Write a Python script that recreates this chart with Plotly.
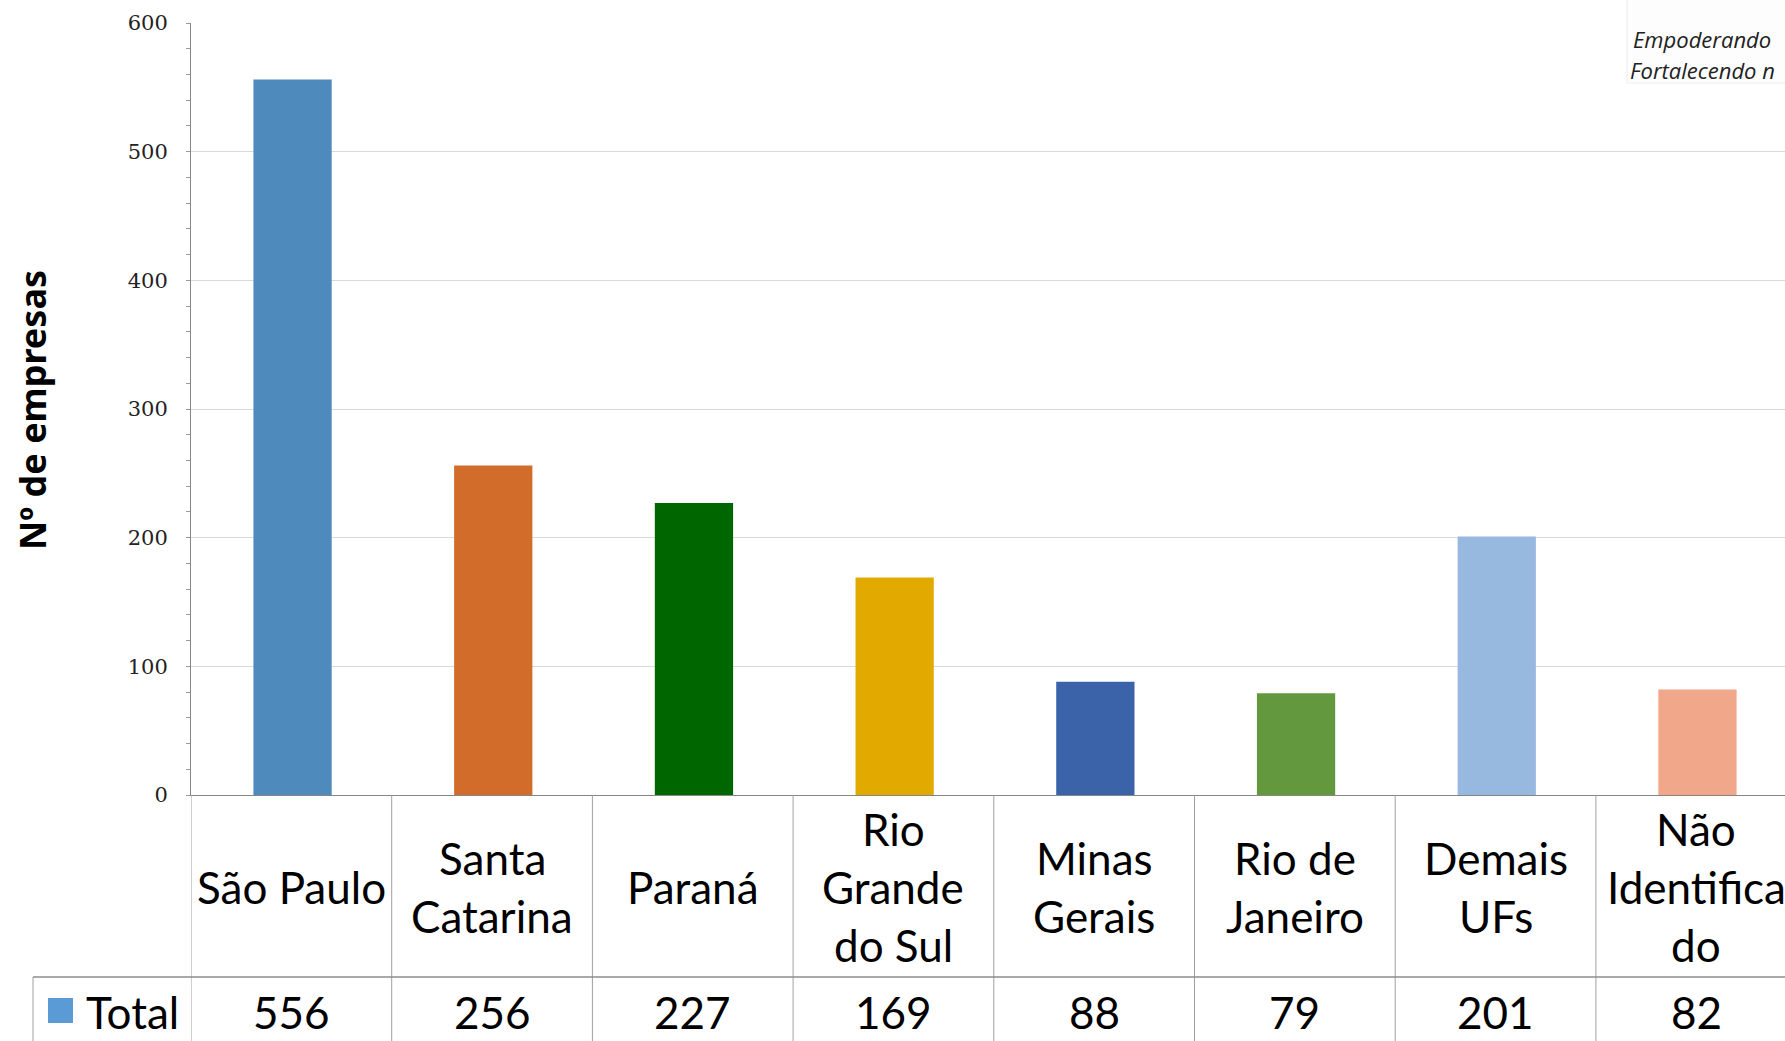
import plotly.graph_objects as go

# ---------------- data ----------------
categories = ["São Paulo", "Santa Catarina", "Paraná", "Rio Grande do Sul",
              "Minas Gerais", "Rio de Janeiro", "Demais UFs", "Não Identificado"]
category_label_lines = [["São Paulo"], ["Santa", "Catarina"], ["Paraná"],
                        ["Rio", "Grande", "do Sul"], ["Minas", "Gerais"],
                        ["Rio de", "Janeiro"], ["Demais", "UFs"],
                        ["Não", "Identifica", "do"]]
totals = [556, 256, 227, 169, 88, 79, 201, 82]
series_name = "Total"
y_ticks = [0, 100, 200, 300, 400, 500, 600]

# ---------------- style ----------------
bar_colors = ["#4F8ABD", "#D26C2B", "#006600", "#E2AA00",
              "#3B63AA", "#63983E", "#97B9E0", "#F1A789"]
W, H = 1785, 1041
def xp(px): return px / W
def yp(py): return 1 - py / H

plot_left = 191
col_w = 200.7
n = len(categories)
x_range_max = -0.5 + (W - plot_left) / col_w
plot_top, plot_bottom = 23, 795
row_split = 977

label_font = dict(family="Lato", size=44, color="#000000")
grid_c = "#D9D9D9"
line_c = "#A0A0A0"

fig = go.Figure()
fig.add_trace(go.Bar(
    x=list(range(n)), y=totals, marker_color=bar_colors,
    marker_line_width=0, name=series_name, showlegend=False,
    hoverinfo="skip", offset=-0.195 + 0.006, width=0.39,
))

fig.update_layout(
    width=W, height=H,
    margin=dict(l=0, r=0, t=0, b=0, autoexpand=False),
    paper_bgcolor="white", plot_bgcolor="white",
    xaxis=dict(domain=[xp(plot_left), 1], range=[-0.5, x_range_max],
               showticklabels=False, showgrid=False, zeroline=False,
               showline=True, linecolor="#868686", linewidth=1, ticks="",
               automargin=False),
    yaxis=dict(domain=[yp(plot_bottom), yp(plot_top)], range=[0, 600],
               tickvals=y_ticks, showgrid=True, gridcolor=grid_c, gridwidth=1,
               zeroline=False, showline=True, linecolor="#868686", linewidth=1,
               ticks="", ticklabelstandoff=18, automargin=False,
               tickfont=dict(family="DejaVu Serif", size=21, color="#222222"),
               minor=dict(dtick=20, ticks="outside", ticklen=4, tickcolor="#9A9A9A",
                          showgrid=False)),
)

shapes = []
# vertical table lines
for i in range(n + 1):
    shapes.append(dict(type="line", xref="x", yref="paper",
                       x0=i - 0.5, x1=i - 0.5, y0=0, y1=yp(plot_bottom),
                       line=dict(color=line_c, width=1)))
# horizontal row separator
shapes.append(dict(type="line", xref="paper", yref="paper",
                   x0=xp(33), x1=1, y0=yp(row_split), y1=yp(row_split),
                   line=dict(color="#8C8C8C", width=1.5)))
# left border of legend cell
shapes.append(dict(type="line", xref="paper", yref="paper",
                   x0=xp(33), x1=xp(33), y0=0, y1=yp(row_split),
                   line=dict(color=line_c, width=1)))
# legend key
shapes.append(dict(type="rect", xref="paper", yref="paper",
                   x0=xp(48), x1=xp(73), y0=yp(1023), y1=yp(998),
                   fillcolor="#5B9BD5", line=dict(width=0)))
# top-right text box
shapes.append(dict(type="rect", xref="paper", yref="paper",
                   x0=xp(1627), x1=1.01, y0=yp(83), y1=1.01,
                   fillcolor="#FDFDFD", line=dict(color="#EDEDED", width=1),
                   layer="above"))
fig.update_layout(shapes=shapes)

ann = []
label_center = 887
line_sp = 58
for i, lines in enumerate(category_label_lines):
    k = len(lines)
    for j, t in enumerate(lines):
        yc = label_center + (j - (k - 1) / 2) * line_sp
        ann.append(dict(x=i, xref="x", y=yp(yc), yref="paper", text=t,
                        showarrow=False, xanchor="center", yanchor="middle",
                        font=label_font))
for i, v in enumerate(totals):
    ann.append(dict(x=i, xref="x", y=yp(1012), yref="paper", text=str(v),
                    showarrow=False, xanchor="center", yanchor="middle",
                    font=label_font))
ann.append(dict(x=xp(84), xref="paper", y=yp(1012), yref="paper", text=series_name,
                showarrow=False, xanchor="left", yanchor="middle", font=label_font))
# y-axis title
ann.append(dict(x=xp(32), xref="paper", y=yp(410), yref="paper",
                text="<b>Nº de empresas</b>", textangle=-90, showarrow=False,
                xanchor="center", yanchor="middle",
                font=dict(family="Noto Sans", size=36, color="#000000")))
# top-right box text
ann.append(dict(x=xp(1631), xref="paper", y=yp(39), yref="paper",
                text="<i>Empoderando</i>", showarrow=False, xanchor="left",
                yanchor="middle", font=dict(family="Open Sans", size=22, color="#222222")))
ann.append(dict(x=xp(1628), xref="paper", y=yp(70), yref="paper",
                text="<i>Fortalecendo n</i>", showarrow=False, xanchor="left",
                yanchor="middle", font=dict(family="Open Sans", size=22, color="#222222")))
fig.update_layout(annotations=ann)

fig.write_html("out.html", config={"displayModeBar": False, "staticPlot": True})

# remove the default page margin so the figure fills the window exactly
with open("out.html", "r", encoding="utf-8") as f:
    html = f.read()
html = html.replace("<head>", "<head><style>html,body{margin:0;padding:0;overflow:hidden;}</style>", 1)
with open("out.html", "w", encoding="utf-8") as f:
    f.write(html)
